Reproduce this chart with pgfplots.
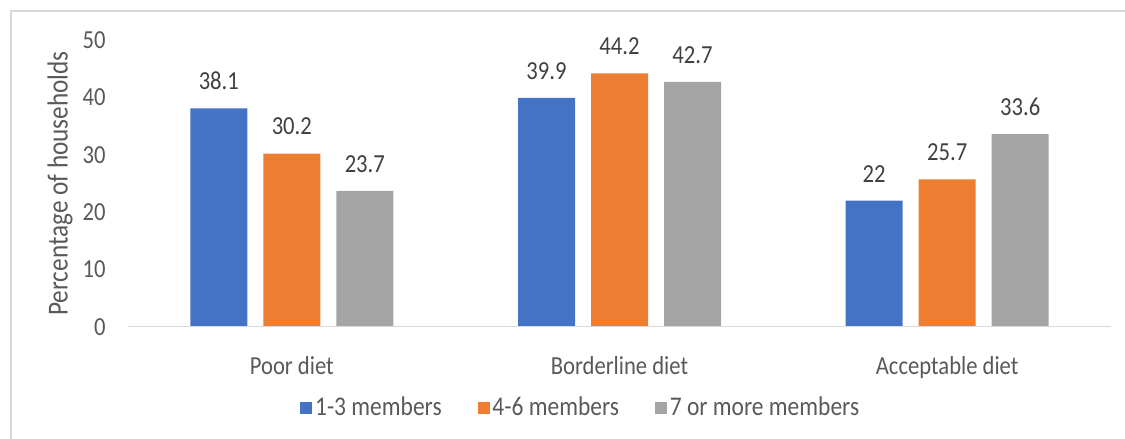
\documentclass[border=0pt]{standalone}
\usepackage{fontspec}
\setmainfont{Carlito}[FakeStretch=0.87]
\usepackage{pgfplots}
\pgfplotsset{compat=1.18}

\definecolor{cblue}{HTML}{4472C4}
\definecolor{corange}{HTML}{ED7D31}
\definecolor{cgray}{HTML}{A5A5A5}
\definecolor{txt}{HTML}{595959}
\definecolor{lbl}{HTML}{404040}
\definecolor{rule}{HTML}{D9D9D9}

\newcommand{\chartfont}{\fontsize{13}{15}\selectfont}

\begin{document}
\begin{tikzpicture}
\useasboundingbox (0,0) rectangle (562.5pt,219.5pt);
% chart frame
\draw[rule, line width=0.75pt] (5.5pt,0pt) -- (5.5pt,214pt) -- (562.5pt,214pt);
\begin{axis}[
  at={(64pt,56.15pt)}, anchor=south west,
  scale only axis, width=491.5pt, height=143.3pt,
  xmin=-0.5, xmax=2.5, ymin=0, ymax=50,
  xtick={0,1,2},
  xticklabels={Poor diet,Borderline diet,Acceptable diet},
  ytick={0,10,...,50},
  ybar=8pt, bar width=28.5pt,
  axis line style={draw=none},
  tick style={draw=none},
  xtick pos=bottom, ytick pos=left,
  /pgf/number format/assume math mode=true,
  yticklabel style={anchor=east, inner sep=0pt, xshift=-11pt, font=\chartfont, text=txt},
  xticklabel style={anchor=north, inner sep=0pt, yshift=-10.5pt, font=\chartfont, text=txt},
  ylabel={Percentage of households},
  ylabel style={at={(axis description cs:-0.0692,0.5)}, anchor=center, font=\fontsize{14.5}{17}\selectfont, text=txt},
  nodes near coords,
  every node near coord/.append style={anchor=south, inner sep=0pt, yshift=9pt, font=\chartfont, text=lbl},
  legend columns=3,
  legend style={at={(0.461,-0.284)}, anchor=center, draw=none, fill=none,
    font=\fontsize{13.5}{15}\selectfont, nodes={text=txt, inner sep=1.45pt},
    /tikz/every even column/.append style={column sep=16.5pt}},
  legend image code/.code={\fill[#1, draw=none] (0pt,-3pt) rectangle (6pt,3pt);},
  after end axis/.code={\draw[rule, line width=0.75pt] (rel axis cs:0,0) -- (rel axis cs:1,0);},
]
\addplot[fill=cblue, draw=none] coordinates {(0,38.1) (1,39.9) (2,22)};
\addplot[fill=corange, draw=none] coordinates {(0,30.2) (1,44.2) (2,25.7)};
\addplot[fill=cgray, draw=none] coordinates {(0,23.7) (1,42.7) (2,33.6)};
\legend{1-3 members, 4-6 members, 7 or more members}
\end{axis}
\end{tikzpicture}
\end{document}
